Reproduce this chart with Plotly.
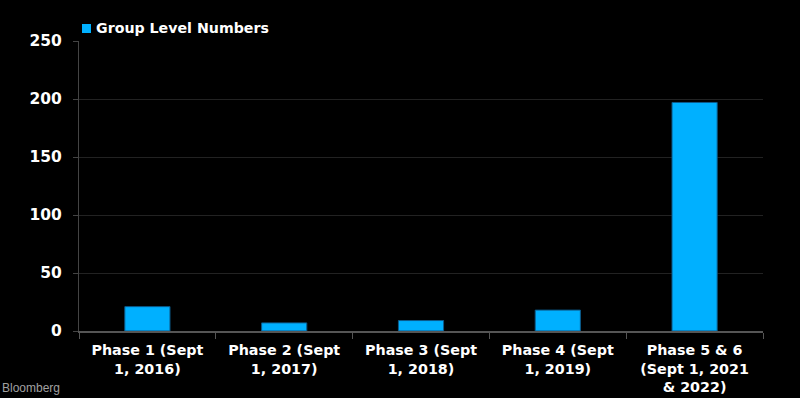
import plotly.graph_objects as go

categories = [
    "Phase 1 (Sept<br>1, 2016)",
    "Phase 2 (Sept<br>1, 2017)",
    "Phase 3 (Sept<br>1, 2018)",
    "Phase 4 (Sept<br>1, 2019)",
    "Phase 5 & 6<br>(Sept 1, 2021<br>& 2022)",
]
values = [21, 7, 9, 18, 197]
series_name = "Group Level Numbers"
y_ticks = [0, 50, 100, 150, 200, 250]

FONT = "DejaVu Sans"
BAR_COLOR = "#00b0ff"

fig = go.Figure()
fig.add_trace(go.Bar(
    x=categories,
    y=values,
    name=series_name,
    marker=dict(color=BAR_COLOR, line=dict(color="#0c5b8c", width=1)),
    showlegend=False,
))

fig.update_layout(
    width=800, height=398,
    paper_bgcolor="#000000", plot_bgcolor="#000000",
    margin=dict(l=79, r=37, t=41, b=67, autoexpand=False),
    bargap=0.67,
    font=dict(family=FONT, color="#ffffff", size=13),
)

fig.update_xaxes(
    type="category", automargin=False,
    showgrid=False,
    showline=True, linecolor="#555555", linewidth=1.5,
    ticks="outside", tickson="boundaries", ticklen=6, tickcolor="#555555",
    tickfont=dict(family=FONT, size=14.3, color="#ffffff", weight="bold"),
    ticklabelstandoff=5,
)
fig.update_yaxes(
    range=[0, 250], tickvals=y_ticks, automargin=False,
    showgrid=True, gridcolor="#222222", gridwidth=1,
    zeroline=False,
    showline=True, linecolor="#444444", linewidth=1,
    ticks="outside", ticklen=5, tickcolor="#444444",
    tickfont=dict(family=FONT, size=15.5, color="#ffffff", weight="bold"),
    ticklabelstandoff=8,
)

# legend (swatch + label) drawn just above the plot area
fig.add_shape(
    type="rect", xref="paper", yref="paper",
    xsizemode="pixel", ysizemode="pixel", xanchor=0, yanchor=1,
    x0=3, x1=12, y0=8, y1=17,
    fillcolor=BAR_COLOR, line=dict(width=0),
)
fig.add_annotation(
    text=series_name, xref="paper", yref="paper",
    x=0, y=1, xanchor="left", yanchor="middle",
    xshift=15, yshift=13, showarrow=False,
    font=dict(family=FONT, size=14.2, color="#ffffff", weight="bold"),
)

fig.add_annotation(
    text="Bloomberg", xref="paper", yref="paper",
    x=-79/684, y=-67/290, xanchor="left", yanchor="bottom",
    yshift=1, showarrow=False,
    font=dict(family="Liberation Sans", size=12, color="#a0a0a0"),
)

fig.write_html(
    "out.html",
    config={"displayModeBar": False},
    post_script="document.body.style.margin='0';",
)
